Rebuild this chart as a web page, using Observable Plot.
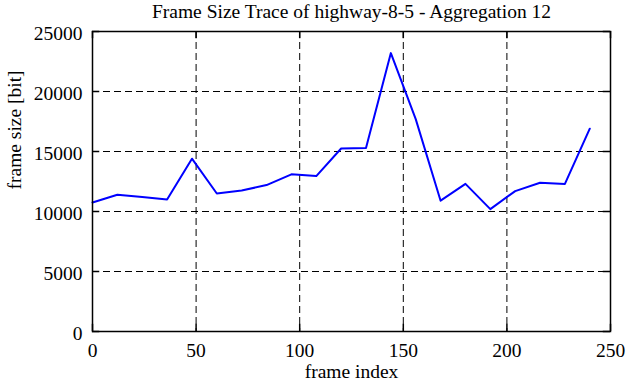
<!DOCTYPE html>
<html>
<head>
<meta charset="utf-8">
<script src="https://cdn.jsdelivr.net/npm/d3@7"></script>
<script src="https://cdn.jsdelivr.net/npm/@observablehq/plot@0.6"></script>
<style>
  html, body { margin: 0; padding: 0; background: #fff; }
  #chart svg { display: block; }
  #chart svg text { font-family: "Liberation Serif", "Times New Roman", serif !important; font-size: 19.5px !important; font-variant: normal !important; }
</style>
</head>
<body>
<div id="chart"></div>
<script>
const title = "Frame Size Trace of highway-8-5 - Aggregation 12";
const xLabel = "frame index";
const yLabel = "frame size [bit]";
const frameIndex = [0, 12, 24, 36, 48, 60, 72, 84, 96, 108, 120, 132, 144, 156, 168, 180, 192, 204, 216, 228, 240];
const frameSize = [10750, 11400, 11200, 11000, 14400, 11500, 11750, 12200, 13100, 12950, 15250, 15300, 23200, 17700, 10900, 12300, 10200, 11700, 12400, 12300, 16900];
const xTicks = [0, 50, 100, 150, 200, 250];
const yTicks = [0, 5000, 10000, 15000, 20000, 25000];

const data = frameIndex.map((f, i) => ({frame: f, size: frameSize[i]}));
const font = "Liberation Serif, Times New Roman, serif";
const fs = 19.5;

const chart = Plot.plot({
  width: 626,
  height: 382,
  marginLeft: 92,
  marginRight: 16,
  marginTop: 31,
  marginBottom: 51,
  style: {fontFamily: font, fontSize: fs + "px", color: "black", background: "white"},
  x: {domain: [0, 250], ticks: xTicks},
  y: {domain: [0, 25000], ticks: yTicks},
  marks: [
    Plot.gridX(xTicks, {stroke: "black", strokeOpacity: 1, strokeDasharray: "7,4", strokeWidth: 1}),
    Plot.gridY(yTicks, {stroke: "black", strokeOpacity: 1, strokeDasharray: "7,4", strokeWidth: 1}),
    Plot.ruleX(xTicks, {x: d => d, y1: 0, y2: 600, stroke: "black", strokeWidth: 1.5}),
    Plot.ruleX(xTicks, {x: d => d, y1: 25000, y2: 24400, stroke: "black", strokeWidth: 1.5}),
    Plot.ruleY(yTicks, {y: d => d, x1: 0, x2: 3.5, stroke: "black", strokeWidth: 1.5}),
    Plot.ruleY(yTicks, {y: d => d, x1: 250, x2: 246.5, stroke: "black", strokeWidth: 1.5}),
    Plot.axisX(xTicks, {tickSize: 0, tickPadding: 12, fontSize: fs, fontFamily: font, label: null}),
    Plot.axisY(yTicks, {tickSize: 0, tickPadding: 10, dy: 2, fontSize: fs, fontFamily: font, label: null, tickFormat: d => String(d)}),
    Plot.lineY(data, {x: "frame", y: "size", stroke: "#0000ff", strokeWidth: 2}),
    Plot.frame({stroke: "black", strokeWidth: 1.5}),
    Plot.text([title], {frameAnchor: "top", lineAnchor: "middle", dy: -20, fontSize: fs, fontFamily: font, fill: "black"}),
    Plot.text([xLabel], {frameAnchor: "bottom", lineAnchor: "middle", dy: 40, fontSize: fs, fontFamily: font, fill: "black"}),
    Plot.text([yLabel], {frameAnchor: "left", lineAnchor: "middle", dx: -78, dy: 8, rotate: -90, fontSize: fs, fontFamily: font, fill: "black"})
  ]
});
document.getElementById("chart").appendChild(chart);
</script>
</body>
</html>
